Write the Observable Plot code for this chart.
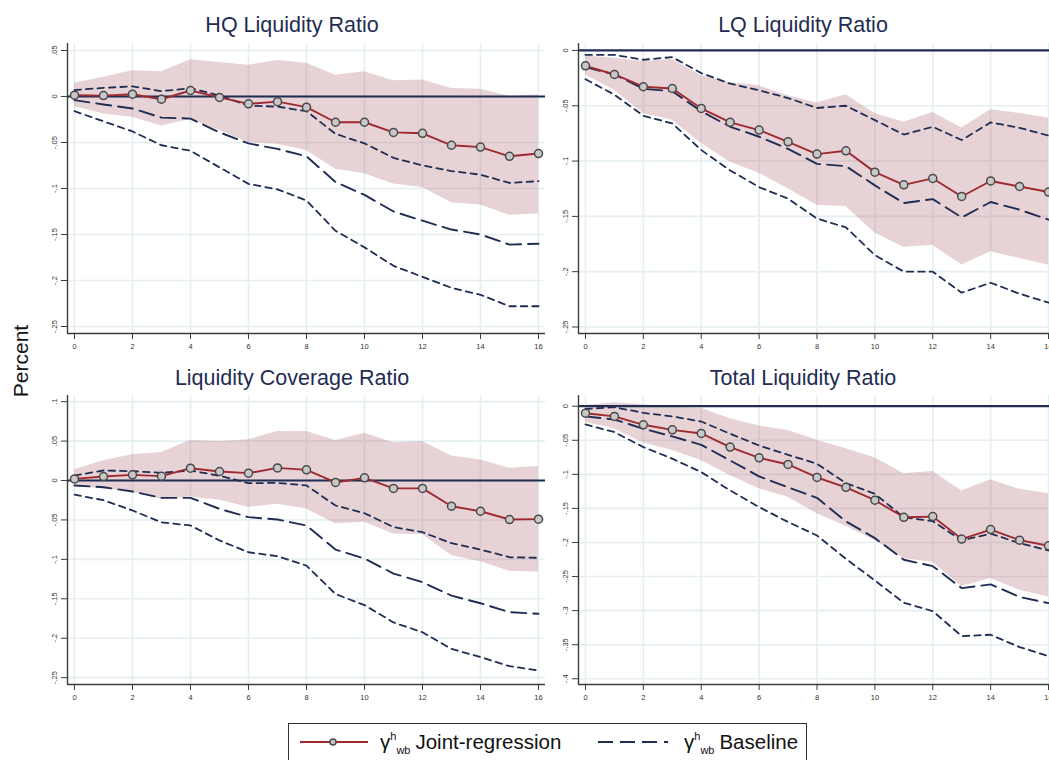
<!DOCTYPE html>
<html><head><meta charset="utf-8">
<script src="https://cdn.jsdelivr.net/npm/d3@7"></script>
<script src="https://cdn.jsdelivr.net/npm/@observablehq/plot@0.6"></script>
<style>
html,body{margin:0;padding:0;background:#fff;overflow:hidden;}
#root{position:relative;width:1049px;height:760px;overflow:hidden;font-family:"Liberation Sans",Arial,Helvetica,sans-serif;background:#fff;}
.title{position:absolute;font-size:21.5px;color:#1f2d52;white-space:nowrap;transform:translateX(-50%);line-height:1;}
.panel{position:absolute;}
.panel svg{max-width:none !important;}
#ylab{position:absolute;left:20px;top:361px;font-size:21px;color:#111;transform:translate(-50%,-50%) rotate(-90deg);white-space:nowrap;line-height:1;}
#legend{position:absolute;left:288px;top:723px;width:519px;height:46px;border:1.5px solid #333;box-sizing:border-box;background:#fff;}
.ltext{position:absolute;top:6px;font-size:20.5px;color:#111;white-space:nowrap;line-height:1.2;}
.ltext sup{font-size:11px;vertical-align:9px;line-height:0;}
.ltext sub{font-size:11px;vertical-align:-5px;line-height:0;margin-right:5px;}
</style></head><body><div id="root"></div>
<script>
// ---------------- data ----------------
const horizon = [0,1,2,3,4,5,6,7,8,9,10,11,12,13,14,15,16];
const xTicks = [0,2,4,6,8,10,12,14,16];

const panelTitles = ["HQ Liquidity Ratio","LQ Liquidity Ratio","Liquidity Coverage Ratio","Total Liquidity Ratio"];
const legendLabels = ["Joint-regression","Baseline"];

// HQ Liquidity Ratio
const hqJoint  = [0.0014,0.001,0.0025,-0.003,0.0065,-0.001,-0.008,-0.0056,-0.0116,-0.028,-0.028,-0.039,-0.040,-0.053,-0.055,-0.065,-0.062];
const hqBandHi = [0.0145,0.021,0.028,0.027,0.040,0.037,0.034,0.039,0.036,0.023,0.027,0.017,0.018,0.0087,0.008,0.0003,0.002];
const hqBandLo = [-0.011,-0.019,-0.0225,-0.032,-0.025,-0.037,-0.050,-0.052,-0.0587,-0.079,-0.084,-0.095,-0.099,-0.1155,-0.118,-0.129,-0.1275];
const hqBase   = [-0.004,-0.0087,-0.013,-0.023,-0.024,-0.039,-0.051,-0.057,-0.065,-0.093,-0.107,-0.125,-0.135,-0.1446,-0.150,-0.161,-0.160];
const hqBaseHi = [0.007,0.0094,0.011,0.0058,0.009,0.001,-0.010,-0.011,-0.016,-0.0406,-0.051,-0.0667,-0.075,-0.081,-0.085,-0.094,-0.092];
const hqBaseLo = [-0.016,-0.027,-0.038,-0.053,-0.059,-0.077,-0.095,-0.101,-0.113,-0.146,-0.164,-0.184,-0.196,-0.208,-0.2155,-0.228,-0.228];
const hqTicks  = [0.05,0,-0.05,-0.1,-0.15,-0.2,-0.25];

// LQ Liquidity Ratio
const lqJoint  = [-0.0139,-0.0217,-0.0328,-0.0344,-0.0524,-0.065,-0.072,-0.0826,-0.0937,-0.0907,-0.110,-0.1215,-0.1157,-0.132,-0.118,-0.123,-0.128];
const lqBandHi = [-0.005,-0.007,-0.010,-0.008,-0.0226,-0.029,-0.032,-0.041,-0.0476,-0.040,-0.057,-0.065,-0.056,-0.070,-0.0536,-0.057,-0.061];
const lqBandLo = [-0.022,-0.036,-0.057,-0.063,-0.084,-0.101,-0.111,-0.125,-0.140,-0.141,-0.165,-0.178,-0.176,-0.194,-0.182,-0.188,-0.194];
const lqBase   = [-0.015,-0.0217,-0.0347,-0.0368,-0.055,-0.069,-0.078,-0.089,-0.1025,-0.1046,-0.122,-0.138,-0.1344,-0.151,-0.137,-0.144,-0.153];
const lqBaseHi = [-0.004,-0.004,-0.0084,-0.006,-0.0205,-0.030,-0.036,-0.043,-0.052,-0.050,-0.063,-0.076,-0.069,-0.081,-0.065,-0.070,-0.077];
const lqBaseLo = [-0.026,-0.040,-0.059,-0.066,-0.090,-0.1085,-0.1236,-0.134,-0.152,-0.160,-0.185,-0.200,-0.200,-0.219,-0.210,-0.220,-0.228];
const lqTicks  = [0,-0.05,-0.1,-0.15,-0.2,-0.25];

// Liquidity Coverage Ratio
const lcrJoint  = [0.002,0.005,0.0072,0.0055,0.0156,0.0114,0.0093,0.016,0.0135,-0.0025,0.0034,-0.010,-0.010,-0.0326,-0.039,-0.0495,-0.049];
const lcrBandHi = [0.0135,0.025,0.0326,0.0355,0.0508,0.0495,0.0516,0.062,0.062,0.0508,0.060,0.048,0.0495,0.031,0.026,0.0156,0.0178];
const lcrBandLo = [-0.0076,-0.0106,-0.0148,-0.024,-0.021,-0.025,-0.034,-0.030,-0.036,-0.055,-0.053,-0.0677,-0.0685,-0.095,-0.103,-0.115,-0.116];
const lcrBase   = [-0.0063,-0.0085,-0.014,-0.022,-0.022,-0.036,-0.0465,-0.0495,-0.057,-0.0876,-0.099,-0.118,-0.129,-0.146,-0.1557,-0.167,-0.169];
const lcrBaseHi = [0.0063,0.0127,0.0118,0.0097,0.0127,0.006,-0.0034,-0.003,-0.0063,-0.0317,-0.0415,-0.059,-0.0656,-0.0795,-0.0876,-0.0973,-0.098];
const lcrBaseLo = [-0.018,-0.025,-0.038,-0.053,-0.057,-0.076,-0.091,-0.096,-0.108,-0.144,-0.158,-0.180,-0.1925,-0.2136,-0.224,-0.2355,-0.241];
const lcrTicks  = [0.1,0.05,0,-0.05,-0.1,-0.15,-0.2,-0.25];

// Total Liquidity Ratio
const tlrJoint  = [-0.0103,-0.015,-0.0273,-0.0347,-0.040,-0.060,-0.0757,-0.0855,-0.1046,-0.119,-0.138,-0.163,-0.162,-0.195,-0.181,-0.1966,-0.2048];
const tlrBandHi = [0.001,0.005,0.002,-0.0015,-0.003,-0.0185,-0.029,-0.0356,-0.050,-0.0625,-0.0757,-0.099,-0.0958,-0.1246,-0.108,-0.122,-0.1285];
const tlrBandLo = [-0.0235,-0.033,-0.054,-0.065,-0.0797,-0.1017,-0.121,-0.1335,-0.158,-0.176,-0.197,-0.224,-0.229,-0.2645,-0.253,-0.270,-0.280];
const tlrBase   = [-0.015,-0.0195,-0.033,-0.0444,-0.0567,-0.0797,-0.103,-0.119,-0.1345,-0.169,-0.1936,-0.2254,-0.2347,-0.267,-0.2615,-0.280,-0.289];
const tlrBaseHi = [-0.004,-0.0015,-0.0098,-0.015,-0.0225,-0.0405,-0.0577,-0.0713,-0.0845,-0.113,-0.1285,-0.163,-0.1687,-0.197,-0.187,-0.201,-0.2117];
const tlrBaseLo = [-0.0268,-0.038,-0.060,-0.077,-0.0968,-0.1237,-0.148,-0.170,-0.1897,-0.224,-0.2557,-0.2885,-0.3007,-0.3374,-0.3354,-0.3535,-0.3667];
const tlrTicks  = [0,-0.05,-0.1,-0.15,-0.2,-0.25,-0.3,-0.35,-0.4];

// ---------------- style ----------------
const navy = "#1f2d52";
const red = "#9e2a30";
const gridColor = "#e5eef0";
const axisColor = "#3c3c3c";
const bandFill = "#b06a78";
const font = '"Liberation Sans", Arial, Helvetica, sans-serif';
const fmt = d => d === 0 ? "0" : String(d).replace("0.", ".");

const root = document.getElementById("root");

function makePanel(cfg) {
  const rows = horizon.map((h, i) => ({
    h, joint: cfg.joint[i], lo: cfg.bandLo[i], hi: cfg.bandHi[i],
    base: cfg.base[i], bLo: cfg.baseLo[i], bHi: cfg.baseHi[i]
  }));
  const xDomain = [-0.241, 16.241];
  const chart = Plot.plot({
    width: cfg.width, height: cfg.height,
    marginLeft: cfg.ml, marginRight: cfg.mr, marginTop: cfg.mt, marginBottom: cfg.mb,
    x: {domain: xDomain},
    y: {domain: cfg.yDomain},
    style: {fontFamily: font, fontSize: "7.5px", color: "#333", background: "transparent", overflow: "visible", maxWidth: "none"},
    marks: [
      Plot.gridX(xTicks, {stroke: gridColor, strokeOpacity: 1, strokeWidth: 1.6}),
      Plot.gridY(cfg.ticks, {stroke: gridColor, strokeOpacity: 1, strokeWidth: 1.6}),
      Plot.areaY(rows, {x: "h", y1: "lo", y2: "hi", fill: bandFill, fillOpacity: 0.3}),
      Plot.ruleY([0], {stroke: navy, strokeWidth: 2.2}),
      Plot.lineY(rows, {x: "h", y: "bHi", stroke: navy, strokeWidth: 1.8, strokeDasharray: "6.5,5"}),
      Plot.lineY(rows, {x: "h", y: "bLo", stroke: navy, strokeWidth: 1.8, strokeDasharray: "6.5,5"}),
      Plot.lineY(rows, {x: "h", y: "base", stroke: navy, strokeWidth: 1.9, strokeDasharray: "15,7"}),
      Plot.lineY(rows, {x: "h", y: "joint", stroke: red, strokeWidth: 1.9}),
      Plot.dot(rows, {x: "h", y: "joint", r: 4, fill: "#c8c8c8", stroke: "#4a4a4a", strokeWidth: 1.5}),
      Plot.ruleX([xDomain[0]], {stroke: axisColor, strokeWidth: 1.4}),
      Plot.ruleY([cfg.yDomain[0]], {stroke: axisColor, strokeWidth: 1.4}),
      Plot.axisX(xTicks, {tickSize: 6, tickPadding: 4, tickFormat: d => String(d), label: null, stroke: axisColor}),
      Plot.axisY(cfg.ticks, {tickSize: 6, tickPadding: 5, tickRotate: -90, tickFormat: fmt, label: null, stroke: axisColor})
    ]
  });
  chart.style.maxWidth = "none";
  chart.style.width = cfg.width + "px";
  chart.style.height = cfg.height + "px";
  const wrap = document.createElement("div");
  wrap.className = "panel";
  wrap.style.left = cfg.left + "px";
  wrap.style.top = cfg.top + "px";
  wrap.style.width = cfg.width + "px";
  wrap.style.height = cfg.height + "px";
  wrap.appendChild(chart);
  root.appendChild(wrap);

  const t = document.createElement("div");
  t.className = "title";
  t.textContent = cfg.title;
  t.style.left = cfg.titleX + "px";
  t.style.top = cfg.titleY + "px";
  root.appendChild(t);
}

makePanel({title: panelTitles[0], titleX: 292, titleY: 15, left: 0, top: 36, width: 550, height: 324, ml: 67, mr: 5, mt: 7, mb: 27,
  yDomain: [-0.2576, 0.0576], ticks: hqTicks,
  joint: hqJoint, bandHi: hqBandHi, bandLo: hqBandLo, base: hqBase, baseHi: hqBaseHi, baseLo: hqBaseLo});
makePanel({title: panelTitles[1], titleX: 803, titleY: 15, left: 550, top: 36, width: 510, height: 324, ml: 28, mr: 5, mt: 7, mb: 27,
  yDomain: [-0.2559, 0.0063], ticks: lqTicks,
  joint: lqJoint, bandHi: lqBandHi, bandLo: lqBandLo, base: lqBase, baseHi: lqBaseHi, baseLo: lqBaseLo});
makePanel({title: panelTitles[2], titleX: 292, titleY: 368, left: 0, top: 388, width: 550, height: 330, ml: 67, mr: 5, mt: 7, mb: 34,
  yDomain: [-0.2587, 0.1078], ticks: lcrTicks,
  joint: lcrJoint, bandHi: lcrBandHi, bandLo: lcrBandLo, base: lcrBase, baseHi: lcrBaseHi, baseLo: lcrBaseLo});
makePanel({title: panelTitles[3], titleX: 803, titleY: 368, left: 550, top: 388, width: 510, height: 330, ml: 28, mr: 5, mt: 7, mb: 34,
  yDomain: [-0.4084, 0.0157], ticks: tlrTicks,
  joint: tlrJoint, bandHi: tlrBandHi, bandLo: tlrBandLo, base: tlrBase, baseHi: tlrBaseHi, baseLo: tlrBaseLo});

// y label
const yl = document.createElement("div");
yl.id = "ylab";
yl.textContent = "Percent";
root.appendChild(yl);

// legend
const lg = document.createElement("div");
lg.id = "legend";
lg.innerHTML = `
<svg width="519" height="46" style="position:absolute;left:-1.5px;top:-1.5px;overflow:visible">
  <line x1="12" x2="80" y1="19" y2="19" stroke="${red}" stroke-width="2"/>
  <circle cx="45" cy="19" r="3" fill="#c8c8c8" stroke="#4a4a4a" stroke-width="1.5"/>
  <line x1="310" x2="380" y1="19" y2="19" stroke="${navy}" stroke-width="2" stroke-dasharray="15,7"/>
</svg>
<div class="ltext" style="left:91px">γ<sup>h</sup><sub>wb</sub>${legendLabels[0]}</div>
<div class="ltext" style="left:395px">γ<sup>h</sup><sub>wb</sub>${legendLabels[1]}</div>`;
root.appendChild(lg);
</script>
</body></html>
